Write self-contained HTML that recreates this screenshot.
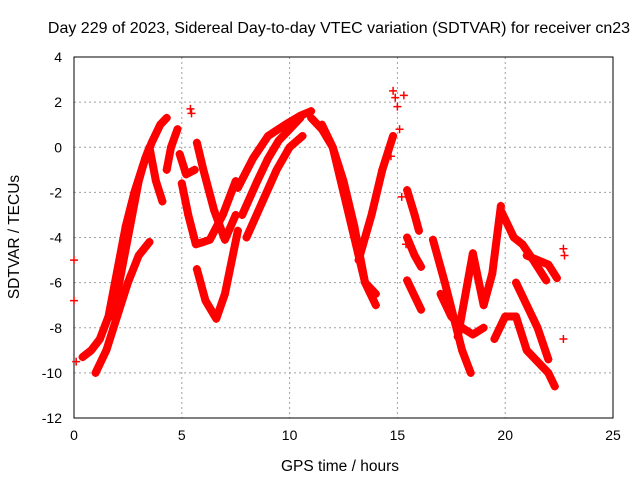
<!DOCTYPE html>
<html><head><meta charset="utf-8"><style>
body{margin:0;background:#fff}
svg{display:block;font-family:"Liberation Sans",sans-serif;font-size:14px}
</style></head><body>
<svg id="chart" width="640" height="480">
<rect x="0" y="0" width="640" height="480" fill="#fff"/>
<text x="339" y="33" text-anchor="middle" font-size="16">Day 229 of 2023, Sidereal Day-to-day VTEC variation (SDTVAR) for receiver cn23</text>
<g id="grid"></g>
<g id="axes"></g>
<g id="marks"></g>
<text x="340" y="471" text-anchor="middle" font-size="15.5">GPS time / hours</text>
<text transform="translate(19,237) rotate(-90)" text-anchor="middle" font-size="15.5">SDTVAR / TECUs</text>
</svg>
<script>
const xTicks=[0,5,10,15,20,25];
const yTicks=[4,2,0,-2,-4,-6,-8,-10,-12];
const s1h=[0.4,0.8,1.2,1.6,2.0,2.4,2.8,3.2,3.6,4.0,4.3];
const s1v=[-9.3,-9.0,-8.5,-7.5,-5.5,-3.5,-2.0,-0.8,0.2,1.0,1.3];
const s2h=[1.8,2.2,2.6,3.0,3.3,3.5,3.8,4.1];
const s2v=[-7.5,-5.5,-3.5,-1.5,-0.5,0,-1.5,-2.4];
const s3h=[1.0,1.5,2.0,2.5,3.0,3.5];
const s3v=[-10,-9,-7.5,-6,-4.8,-4.2];
const s4h=[4.3,4.5,4.8];
const s4v=[-1.0,0.0,0.8];
const s5h=[5.0,5.3,5.65,6.0,6.3,6.9,7.5];
const s5v=[-1.6,-3.0,-4.3,-4.2,-4.1,-3.0,-1.5];
const s6h=[4.9,5.2,5.6];
const s6v=[-0.3,-1.2,-1.0];
const s7h=[5.7,6.0,6.5,7.0,7.5];
const s7v=[0.2,-1.0,-2.8,-4.1,-3.0];
const s8h=[5.7,6.1,6.6,7.0,7.6];
const s8v=[-5.4,-6.8,-7.6,-6.5,-3.7];
const s9h=[7.8,8.5,9.0,9.5,10.0,10.5];
const s9v=[-3.0,-1.5,-0.5,0.3,0.8,1.3];
const s10h=[7.6,8.3,9.0,9.8,10.5,11.0];
const s10v=[-1.8,-0.5,0.5,1.0,1.4,1.6];
const s11h=[8.0,8.7,9.4,10.0,10.6];
const s11v=[-4.0,-2.5,-1.0,0.0,0.5];
const s12h=[11.0,11.5,12.0,12.5,13.0,13.5,14.0];
const s12v=[1.3,0.8,0.0,-1.5,-3.5,-6.0,-7.0];
const s13h=[11.5,12.0,12.5,13.0,13.5,14.0];
const s13v=[1.0,0.0,-2.0,-4.0,-6.0,-6.5];
const s14h=[13.2,13.8,14.3,14.8];
const s14v=[-5.0,-3.0,-1.0,0.5];
const s15h=[15.45,15.8,16.0];
const s15v=[-1.9,-3.0,-3.7];
const s16h=[15.45,15.8,16.1];
const s16v=[-4.0,-4.8,-5.3];
const s17h=[15.45,15.8,16.1];
const s17v=[-5.9,-6.6,-7.2];
const s18h=[16.65,17.2,17.6,18.0,18.4];
const s18v=[-4.1,-6.0,-7.5,-9.0,-10.0];
const s19h=[17.8,18.5,19.0,19.4,19.8];
const s19v=[-8.4,-4.7,-7.0,-5.6,-2.6];
const s20h=[19.8,20.4,20.8,21.3,21.9];
const s20v=[-2.8,-4.0,-4.3,-5.0,-5.9];
const s21h=[19.5,20.0,20.5,21.0,21.5,22.0,22.3];
const s21v=[-8.5,-7.5,-7.5,-9.0,-9.5,-10.0,-10.6];
const s22h=[20.5,21.0,21.5,22.0];
const s22v=[-6.0,-7.0,-8.0,-9.4];
const s23h=[21.0,21.5,22.0,22.4];
const s23v=[-4.8,-5.0,-5.2,-5.8];
const s24h=[17.0,17.5,18.0,18.5,19.0];
const s24v=[-6.5,-7.5,-8.0,-8.3,-8.0];
const dotH=[0,0,0.1,14.8,14.9,15.3,15.0,15.1,14.7,15.2,15.4,22.7,22.7,22.75,5.4,5.45];
const dotV=[-6.8,-5.0,-9.5,2.5,2.2,2.3,1.8,0.8,-0.4,-2.2,-4.3,-4.5,-8.5,-4.8,1.7,1.5];
const seriesH=[s1h,s2h,s3h,s4h,s5h,s6h,s7h,s8h,s9h,s10h,s11h,s12h,s13h,s14h,s15h,s16h,s17h,s18h,s19h,s20h,s21h,s22h,s23h,s24h];
const seriesV=[s1v,s2v,s3v,s4v,s5v,s6v,s7v,s8v,s9v,s10v,s11v,s12v,s13v,s14v,s15v,s16v,s17v,s18v,s19v,s20v,s21v,s22v,s23v,s24v];

const L=74,R=613,T=57,B=418;
const xs=h=>L+(h-0)/(25-0)*(R-L);
const ys=v=>B-(v+12)/16*(B-T);
const NS="http://www.w3.org/2000/svg";
const grid=document.getElementById('grid'),axes=document.getElementById('axes'),marks=document.getElementById('marks');
function mk(tag,attrs,parent){const e=document.createElementNS(NS,tag);for(const k in attrs)e.setAttribute(k,attrs[k]);parent.appendChild(e);return e;}
xTicks.forEach(t=>{
  const x=xs(t);
  if(t>0&&t<25){const g=mk('line',{x1:x,x2:x,y1:T,y2:B,stroke:'#a0a0a0','stroke-dasharray':'2,3'},grid);
  
  }
  const tx=mk('text',{x:x,y:B+22,'text-anchor':'middle'},axes);tx.textContent=t;
  
  
});
yTicks.forEach(t=>{
  const y=ys(t);
  if(t>-12&&t<4){const g=mk('line',{x1:L,x2:R,y1:y,y2:y,stroke:'#a0a0a0','stroke-dasharray':'2,3'},grid);
  
  }
  const tx=mk('text',{x:L-12,y:y+5,'text-anchor':'end'},axes);tx.textContent=t;
  
  
});
const frame=mk('rect',{x:L,y:T,width:R-L,height:B-T,fill:'none',stroke:'#000'},axes);


function plus(h,v){
  const x=xs(h),y=ys(v);
  const p=mk('path',{d:`M${x-4},${y}H${x+4}M${x},${y-4}V${y+4}`,stroke:'#f00','stroke-width':1.5},marks);
  
  
}
seriesH.forEach((hs,i)=>{
  const vs=seriesV[i];
  const pts=hs.map((h,j)=>xs(h)+','+ys(vs[j])).join(' ');
  const pl=mk('polyline',{points:pts,fill:'none',stroke:'#f00','stroke-width':8,'stroke-linejoin':'round','stroke-linecap':'round'},marks);
  
  
  hs.forEach((h,j)=>plus(h,vs[j]));
});
dotH.forEach((h,i)=>plus(h,dotV[i]));
</script>
</body></html>
